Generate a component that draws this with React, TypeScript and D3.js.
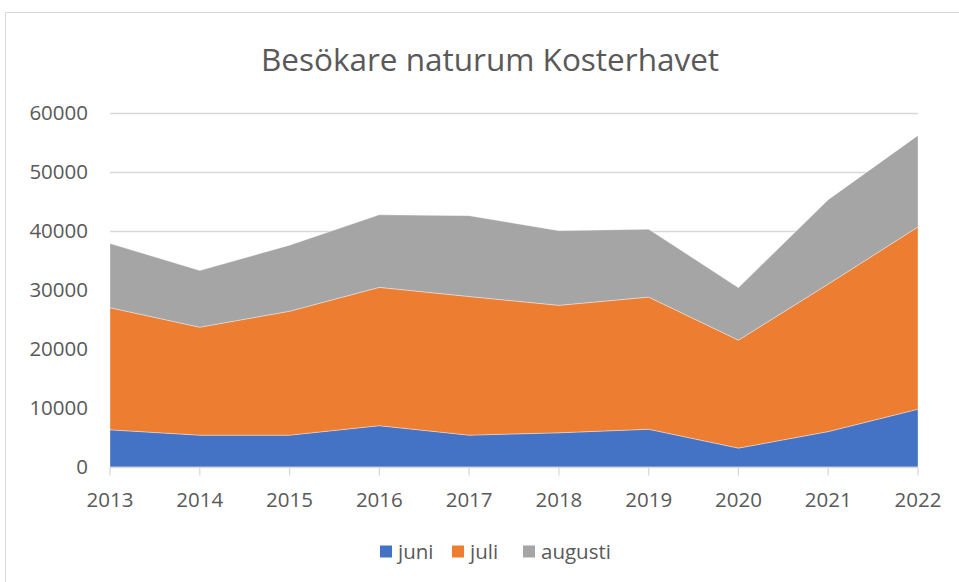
import React, { useRef, useEffect } from "react";
import * as d3 from "d3";

const years = ["2013", "2014", "2015", "2016", "2017", "2018", "2019", "2020", "2021", "2022"];
const juni = [6300, 5400, 5400, 7000, 5400, 5800, 6400, 3200, 6000, 9800];
const juli = [20700, 18300, 21000, 23450, 23500, 21600, 22400, 18300, 25000, 30900];
const augusti = [10900, 9600, 11200, 12300, 13700, 12650, 11500, 8900, 14300, 15500];
const yTicks = [0, 10000, 20000, 30000, 40000, 50000, 60000];

const seriesNames = ["juni", "juli", "augusti"];
const colors = ["#4472C4", "#ED7D31", "#A5A5A5"];

const FONT = "'Open Sans', 'Noto Sans', sans-serif";

const App = () => {
  const svgRef = useRef(null);

  useEffect(() => {
    const svg = d3.select(svgRef.current);
    svg.selectAll("*").remove();

    // chart frame
    svg
      .append("rect")
      .attr("x", 5.5)
      .attr("y", 12.5)
      .attr("width", 1000)
      .attr("height", 700)
      .attr("fill", "#fff")
      .attr("stroke", "#d9d9d9");

    svg
      .append("text")
      .attr("x", 490)
      .attr("y", 71)
      .attr("text-anchor", "middle")
      .attr("font-family", FONT)
      .attr("font-size", 31.5)
      .attr("fill", "#595959")
      .text("Besökare naturum Kosterhavet");

    const x = d3.scalePoint().domain(years).range([110, 918]);
    const y = d3.scaleLinear().domain([0, 60000]).range([467, 113]);

    // gridlines
    svg
      .append("g")
      .selectAll("line")
      .data(yTicks.slice(1))
      .enter()
      .append("line")
      .attr("x1", 110)
      .attr("x2", 918)
      .attr("y1", (d) => y(d) + 0.5)
      .attr("y2", (d) => y(d) + 0.5)
      .attr("stroke", "#d9d9d9")
      .attr("stroke-width", 1.3);

    const rows = years.map((yr, i) => ({
      year: yr,
      juni: juni[i],
      juli: juli[i],
      augusti: augusti[i],
    }));
    const stacked = d3.stack().keys(seriesNames)(rows);

    const area = d3
      .area()
      .x((d) => x(d.data.year))
      .y0((d) => y(d[0]))
      .y1((d) => y(d[1]));

    svg
      .append("g")
      .selectAll("path")
      .data(stacked)
      .enter()
      .append("path")
      .attr("d", area)
      .attr("fill", (d, i) => colors[i])
      .attr("stroke", "#fff")
      .attr("stroke-width", 0.6)
      .attr("stroke-opacity", 0.6);

    // y labels
    svg
      .append("g")
      .selectAll("text")
      .data(yTicks)
      .enter()
      .append("text")
      .attr("x", 88)
      .attr("y", (d) => y(d))
      .attr("dy", "0.35em")
      .attr("text-anchor", "end")
      .attr("font-family", FONT)
      .attr("font-size", 20.5)
      .attr("fill", "#595959")
      .text((d) => d);

    // x axis
    const xAxis = svg.append("g").attr("transform", "translate(0,467.5)");
    xAxis
      .append("line")
      .attr("x1", 110)
      .attr("x2", 918)
      .attr("stroke", "#d9d9d9")
      .attr("stroke-width", 1.3);
    xAxis
      .selectAll(".tick")
      .data(years)
      .enter()
      .append("line")
      .attr("x1", (d) => x(d))
      .attr("x2", (d) => x(d))
      .attr("y1", 0)
      .attr("y2", 8)
      .attr("stroke", "#d9d9d9")
      .attr("stroke-width", 1.3);
    xAxis
      .selectAll(".lbl")
      .data(years)
      .enter()
      .append("text")
      .attr("x", (d) => x(d))
      .attr("y", 32)
      .attr("dy", "0.35em")
      .attr("text-anchor", "middle")
      .attr("font-family", FONT)
      .attr("font-size", 20.5)
      .attr("fill", "#595959")
      .text((d) => d);

    // legend
    const legendX = [380, 452, 523];
    const legend = svg
      .append("g")
      .selectAll("g")
      .data(seriesNames)
      .enter()
      .append("g")
      .attr("transform", (d, i) => `translate(${legendX[i]},551.5)`);
    legend
      .append("rect")
      .attr("x", 0)
      .attr("y", -6)
      .attr("width", 12)
      .attr("height", 12)
      .attr("fill", (d, i) => colors[i]);
    legend
      .append("text")
      .attr("x", 18)
      .attr("y", 0)
      .attr("dy", "0.35em")
      .attr("font-family", FONT)
      .attr("font-size", 20.5)
      .attr("fill", "#595959")
      .text((d) => d);
  }, []);

  return (
    <svg
      ref={svgRef}
      width={959}
      height={582}
      style={{ position: "absolute", left: 0, top: 0 }}
    />
  );
};

export default App;
